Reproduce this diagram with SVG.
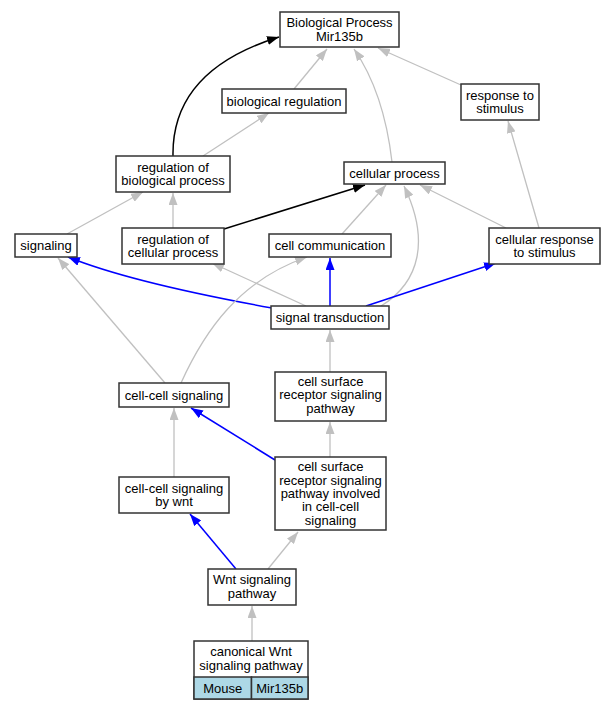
<svg xmlns="http://www.w3.org/2000/svg" width="612" height="709" viewBox="0 0 612 709">
<style>
.n rect{fill:#fff;stroke:#333;stroke-width:1.5}
text{font-family:"Liberation Sans",Arial,sans-serif;font-size:13px;fill:#000;text-anchor:middle}
.g{fill:none;stroke:#c0c0c0;stroke-width:1.3;marker-end:url(#ag)}
.b{fill:none;stroke:#0000ff;stroke-width:1.5;marker-end:url(#ab)}
.k{fill:none;stroke:#000;stroke-width:1.5;marker-end:url(#ak)}
</style>
<defs>
<marker id="ag" markerUnits="userSpaceOnUse" markerWidth="12" markerHeight="9" refX="12" refY="4.5" orient="auto"><path d="M0,0 L12,4.5 L0,9 z" fill="#c0c0c0"/></marker>
<marker id="ab" markerUnits="userSpaceOnUse" markerWidth="12" markerHeight="9" refX="12" refY="4.5" orient="auto"><path d="M0,0 L12,4.5 L0,9 z" fill="#0000ff"/></marker>
<marker id="ak" markerUnits="userSpaceOnUse" markerWidth="12" markerHeight="9" refX="12" refY="4.5" orient="auto"><path d="M0,0 L12,4.5 L0,9 z" fill="#000"/></marker>
</defs>
<rect width="612" height="709" fill="#fff"/>
<g id="edges">
<path class="g" d="M294,89 L327,49"/>
<path class="k" d="M173,156 C172,100 205,60 279,37"/>
<path class="g" d="M392,162 C386,110 372,75 354,49"/>
<path class="g" d="M461,85 L378,48"/>
<path class="g" d="M203,156 L269,113"/>
<path class="g" d="M539,228 L508,121"/>
<path class="g" d="M67,234 L143,192"/>
<path class="g" d="M173,228 L173,193"/>
<path class="k" d="M224,229 L365,185"/>
<path class="g" d="M342,234 L386,185"/>
<path class="g" d="M381,306 C420,282 430,240 404,186"/>
<path class="g" d="M506,228 L420,185"/>
<path class="b" d="M272,308 C200,295 120,278 68,257"/>
<path class="g" d="M306,306 L212,263"/>
<path class="b" d="M330,306 L330,258"/>
<path class="b" d="M366,306 L496,263"/>
<path class="g" d="M165,383 L58,258"/>
<path class="g" d="M181,383 C205,330 240,280 307,257"/>
<path class="g" d="M330,372 L330,330"/>
<path class="g" d="M174,477 L174,408"/>
<path class="b" d="M275,460 L191,408"/>
<path class="g" d="M330,457 L330,422"/>
<path class="b" d="M236,569 L190,514"/>
<path class="g" d="M268,569 L298,532"/>
<path class="g" d="M252,641 L252,606"/>
</g>
<g id="n_bp" class="n"><rect x="280" y="12" width="119" height="35"/><text x="339.5" y="27.3">Biological Process</text><text x="339.5" y="40.7">Mir135b</text></g>
<g id="n_breg" class="n"><rect x="222" y="89" width="124" height="24"/><text x="284" y="105.5">biological regulation</text></g>
<g id="n_rts" class="n"><rect x="461" y="84" width="78" height="36"/><text x="500" y="99.8">response to</text><text x="500" y="113.2">stimulus</text></g>
<g id="n_rbp" class="n"><rect x="116" y="156" width="114" height="36"/><text x="173" y="171.8">regulation of</text><text x="173" y="185.2">biological process</text></g>
<g id="n_cp" class="n"><rect x="344" y="162" width="101" height="22"/><text x="394.5" y="177.5">cellular process</text></g>
<g id="n_sig" class="n"><rect x="15" y="234" width="62" height="23"/><text x="46" y="250">signaling</text></g>
<g id="n_rcp" class="n"><rect x="122" y="228" width="102" height="36"/><text x="173" y="243.8">regulation of</text><text x="173" y="257.2">cellular process</text></g>
<g id="n_cc" class="n"><rect x="269" y="234" width="122" height="23"/><text x="330" y="250">cell communication</text></g>
<g id="n_crs" class="n"><rect x="489" y="228" width="111" height="36"/><text x="544.5" y="243.8">cellular response</text><text x="544.5" y="257.2">to stimulus</text></g>
<g id="n_st" class="n"><rect x="271" y="306" width="118" height="23"/><text x="330" y="322">signal transduction</text></g>
<g id="n_ccs" class="n"><rect x="119" y="383" width="110" height="24"/><text x="174" y="399.5">cell-cell signaling</text></g>
<g id="n_csr" class="n"><rect x="275" y="372" width="111" height="49"/><text x="330.5" y="386">cell surface</text><text x="330.5" y="399.4">receptor signaling</text><text x="330.5" y="412.8">pathway</text></g>
<g id="n_ccw" class="n"><rect x="119" y="477" width="110" height="36"/><text x="174" y="492.8">cell-cell signaling</text><text x="174" y="506.2">by wnt</text></g>
<g id="n_csri" class="n"><rect x="275" y="457" width="111" height="73"/><text x="330.5" y="471.2">cell surface</text><text x="330.5" y="484.6">receptor signaling</text><text x="330.5" y="498">pathway involved</text><text x="330.5" y="511.4">in cell-cell</text><text x="330.5" y="524.8">signaling</text></g>
<g id="n_wnt" class="n"><rect x="208" y="569" width="88" height="36"/><text x="252" y="584.3">Wnt signaling</text><text x="252" y="597.7">pathway</text></g>
<g id="n_can" class="n"><rect x="194" y="641" width="114" height="58"/><text x="251" y="656">canonical Wnt</text><text x="251" y="670">signaling pathway</text>
<rect x="194" y="677" width="57.5" height="22" style="fill:#add8e6"/><rect x="251.5" y="677" width="56.5" height="22" style="fill:#add8e6"/>
<text x="222.7" y="692.5">Mouse</text><text x="279.7" y="692.5">Mir135b</text></g>
</svg>
